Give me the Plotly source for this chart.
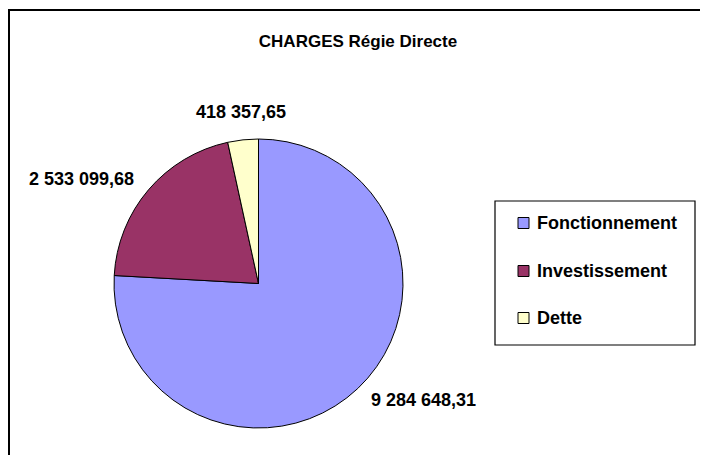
import math
import plotly.graph_objects as go

# ---- data ----
categories = ["Fonctionnement", "Investissement", "Dette"]
values = [9284648.31, 2533099.68, 418357.65]
colors = ["#9999FF", "#993366", "#FFFFCC"]
title_text = "CHARGES Régie Directe"

W, H = 708, 455
OFF = 8  # page body margin offset of the figure inside the screenshot
FONT = "Arial, 'Liberation Sans', sans-serif"

# pie geometry (screenshot pixels)
cx, cy, r = 258.5, 283.5, 144.5
LABEL_GAP = 16


def px(x):
    return (x - OFF) / W


def py(y):
    return 1 - (y - OFF) / H


def fr_num(v):
    s = f"{v:,.2f}"
    return s.replace(",", " ").replace(".", ",")


fig = go.Figure()
fig.add_trace(go.Pie(
    labels=categories,
    values=values,
    marker=dict(colors=colors, line=dict(color="black", width=1)),
    sort=False,
    direction="clockwise",
    rotation=0,
    textinfo="none",
    domain=dict(x=[px(cx - r), px(cx + r)], y=[py(cy + r), py(cy - r)]),
    showlegend=False,
    hoverinfo="label+value+percent",
))

shapes = []
annotations = []

# data labels placed outside each slice along its mid-angle (Excel style)
total = sum(values)
cum = 0.0
for v in values:
    frac = v / total
    theta = 2 * math.pi * (cum + frac / 2)
    cum += frac
    dx, dy = math.sin(theta), -math.cos(theta)
    lx = cx + dx * (r + LABEL_GAP)
    ly = cy + dy * (r + LABEL_GAP)
    xa = "center" if abs(dx) < 0.3 else ("left" if dx > 0 else "right")
    ya = "bottom" if dy < -0.9 else ("top" if dy > 0.9 else "middle")
    annotations.append(dict(text=fr_num(v), xref="paper", yref="paper",
                            x=px(lx), y=py(ly), xanchor=xa, yanchor=ya,
                            showarrow=False,
                            font=dict(family=FONT, size=18, color="black", weight="bold")))

# outer chart border (cropped at right/bottom)
shapes.append(dict(type="rect", xref="paper", yref="paper",
                   x0=px(9), x1=px(W + 40), y0=py(H + 40), y1=py(10),
                   line=dict(color="black", width=2), fillcolor="rgba(0,0,0,0)"))

# legend box
lx0, lx1, ly0, ly1 = 495, 695, 201, 345
shapes.append(dict(type="rect", xref="paper", yref="paper",
                   x0=px(lx0), x1=px(lx1), y0=py(ly1), y1=py(ly0),
                   line=dict(color="black", width=1.2), fillcolor="white"))
row_y = [223, 271, 318]
for name, col, yy in zip(categories, colors, row_y):
    shapes.append(dict(type="rect", xref="paper", yref="paper",
                       x0=px(518), x1=px(529), y0=py(yy + 5.5), y1=py(yy - 5.5),
                       line=dict(color="black", width=1), fillcolor=col))
    annotations.append(dict(text=name, xref="paper", yref="paper",
                            x=px(535), y=py(yy), xanchor="left", yanchor="middle",
                            showarrow=False,
                            font=dict(family=FONT, size=18, color="black", weight="bold")))

fig.update_layout(
    width=W, height=H,
    margin=dict(l=0, r=0, t=0, b=0),
    paper_bgcolor="white",
    plot_bgcolor="white",
    title=dict(text=title_text, x=px(358), y=py(41), xanchor="center", yanchor="middle",
               font=dict(family=FONT, size=17, color="black", weight="bold")),
    shapes=shapes,
    annotations=annotations,
    showlegend=False,
)

fig.write_html("out.html")
